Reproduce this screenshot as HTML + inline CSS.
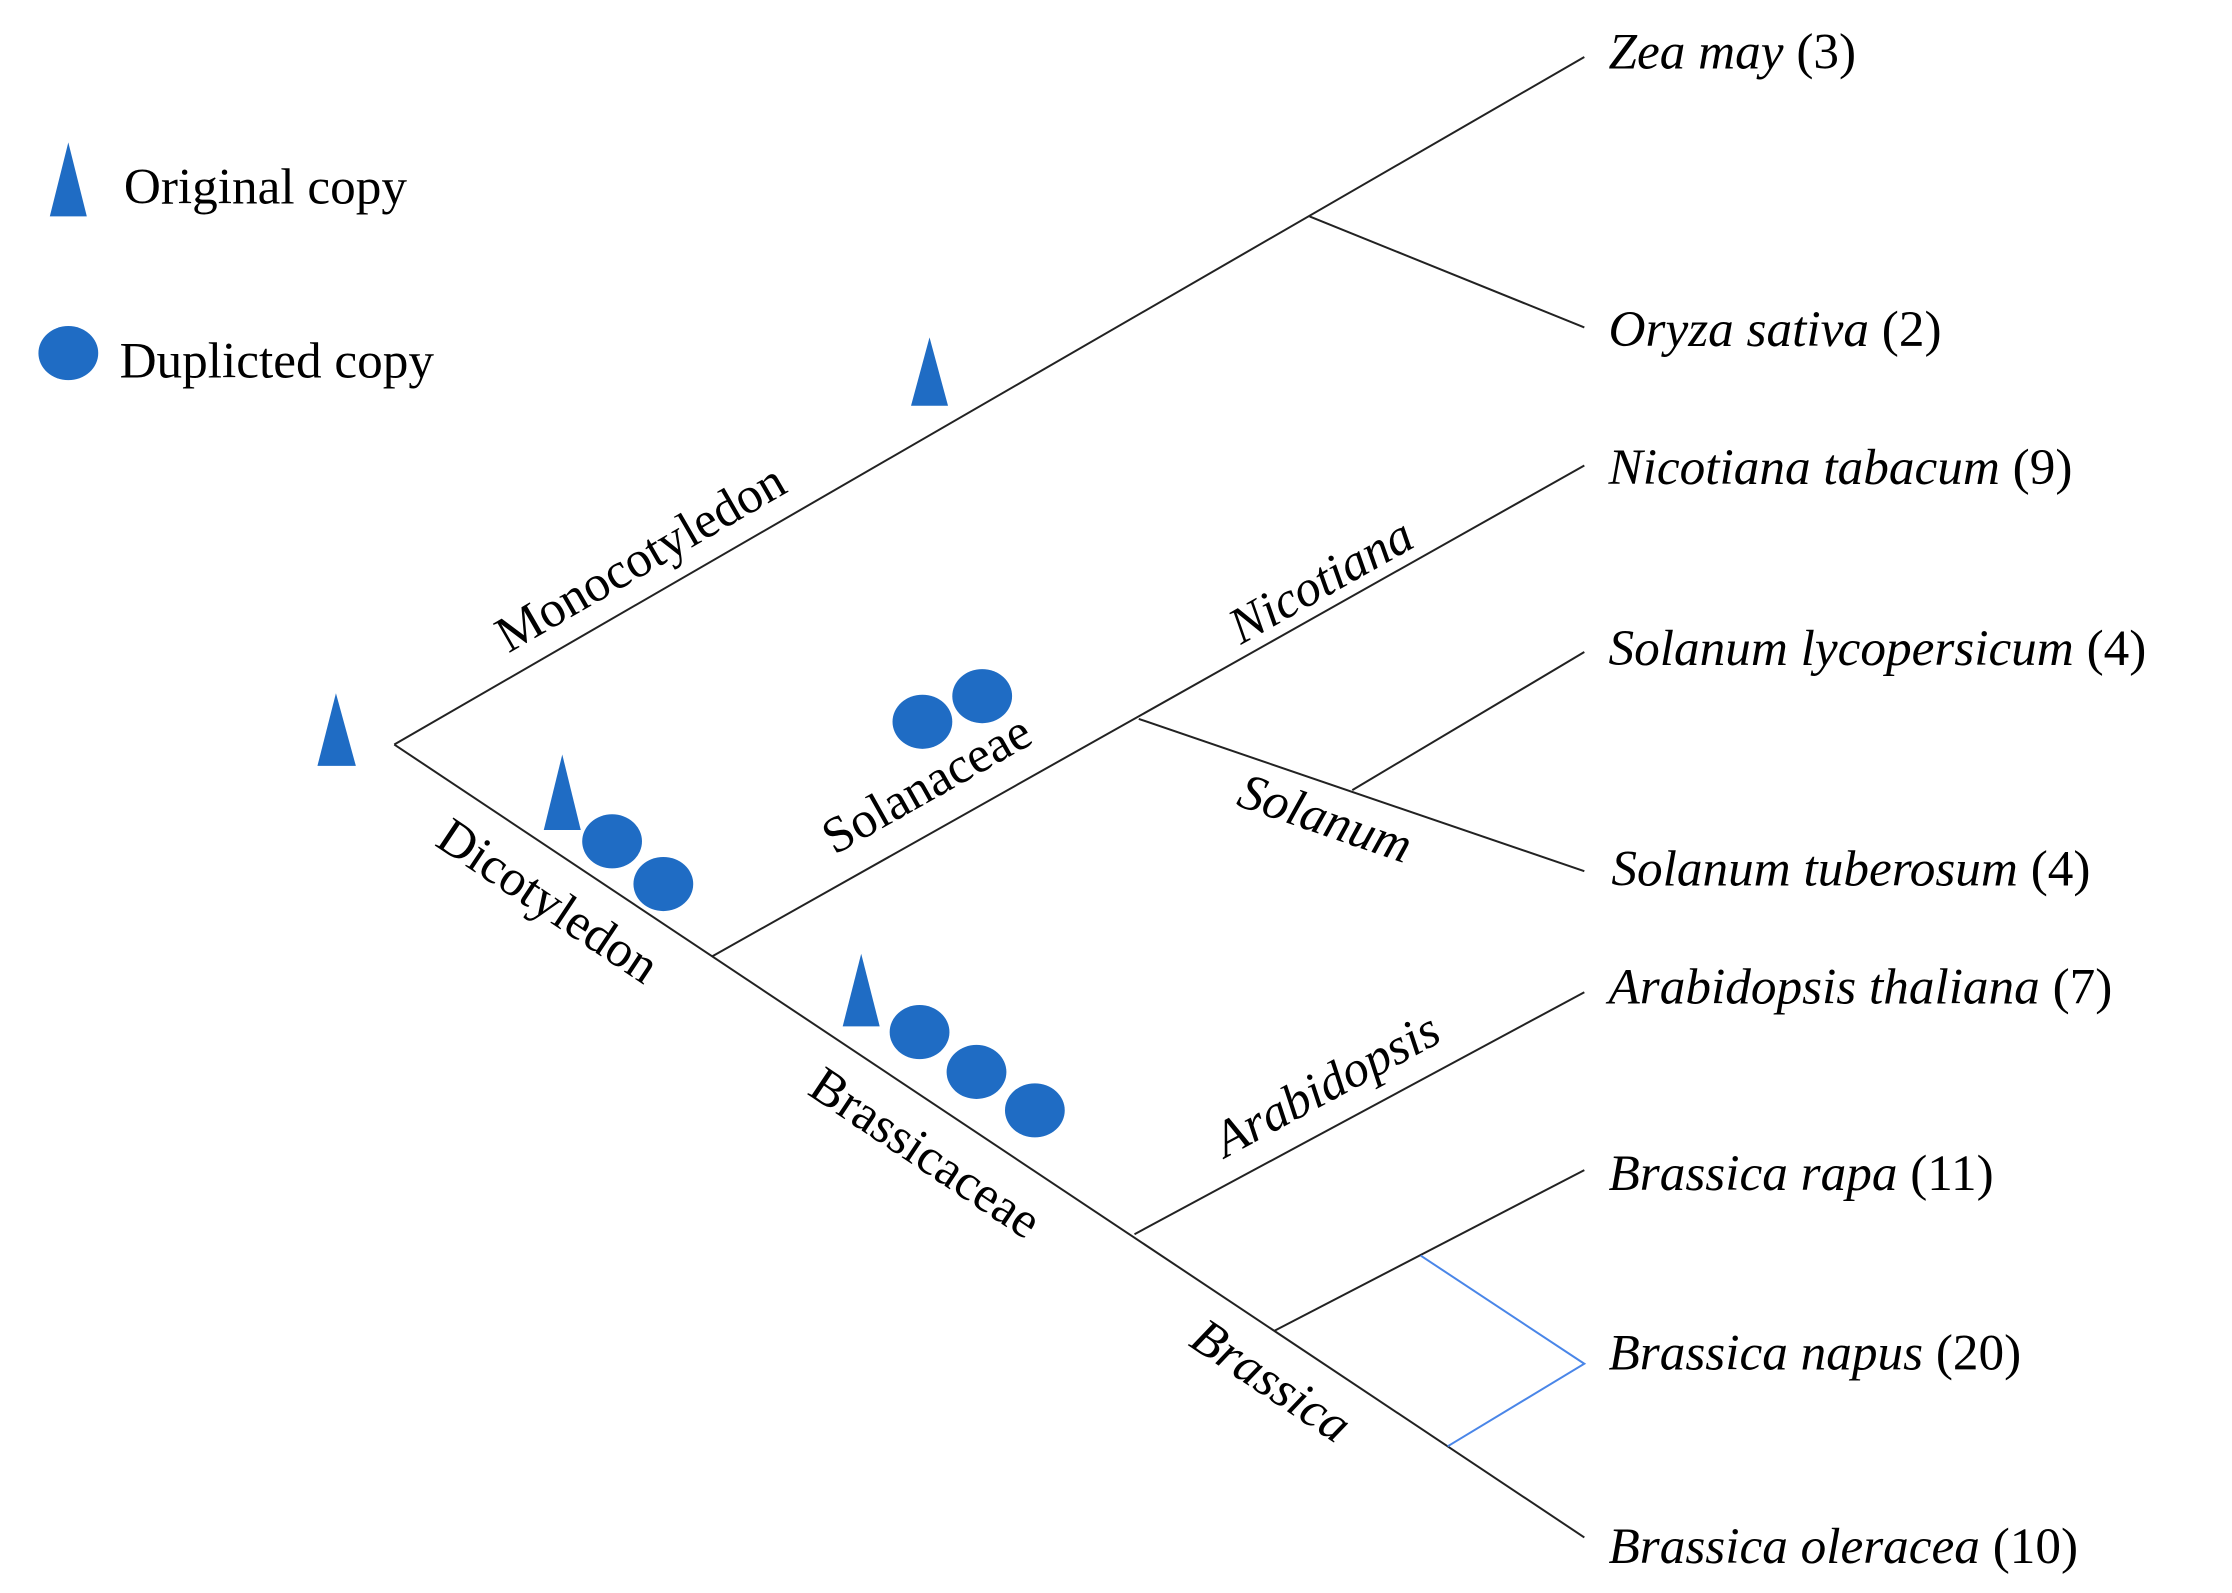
<!DOCTYPE html>
<html><head><meta charset="utf-8"><style>html,body{margin:0;padding:0;background:#fff}svg{display:block}</style></head>
<body>
<svg xmlns="http://www.w3.org/2000/svg" width="2232" height="1593" viewBox="0 0 1568 1119" font-family="'Liberation Serif', serif" font-size="36">
<g stroke="#222" stroke-width="1.4" fill="none">
<line x1="277" y1="523" x2="1113" y2="40"/>
<line x1="920" y1="152" x2="1113" y2="230"/>
<line x1="277" y1="523" x2="1113" y2="1080"/>
<line x1="500" y1="672" x2="1113" y2="327"/>
<line x1="800" y1="505" x2="1113" y2="612"/>
<line x1="950" y1="555" x2="1113" y2="458"/>
<line x1="797" y1="867" x2="1113" y2="697"/>
<line x1="895" y1="935" x2="1113" y2="822"/>
</g>
<polyline points="998,882 1113,958 1017,1016" stroke="#4a86e8" stroke-width="1.4" fill="none"/>
<g fill="#1f6cc4">
<polygon points="48,100 35,152 61,152"/>
<ellipse cx="48" cy="248" rx="21" ry="19"/>
<polygon points="236,487 223,538 250,538"/>
<polygon points="653,237 640,285 666,285"/>
<polygon points="395,530 382,583 408,583"/>
<ellipse cx="430" cy="591" rx="21" ry="19"/>
<ellipse cx="466" cy="621" rx="21" ry="19"/>
<ellipse cx="648" cy="507" rx="21" ry="19"/>
<ellipse cx="690" cy="489" rx="21" ry="19"/>
<polygon points="605,670 592,721 618,721"/>
<ellipse cx="646" cy="725" rx="21" ry="19"/>
<ellipse cx="686" cy="753" rx="21" ry="19"/>
<ellipse cx="727" cy="780" rx="21" ry="19"/>
</g>
<g fill="#000">
<text x="87" y="143">Original  copy</text>
<text x="84" y="265">Duplicted copy</text>
<text x="1130" y="48"><tspan font-style="italic">Zea may</tspan> (3)</text>
<text x="1130" y="243"><tspan font-style="italic">Oryza sativa</tspan> (2)</text>
<text x="1130" y="340"><tspan font-style="italic">Nicotiana tabacum</tspan> (9)</text>
<text x="1130" y="467"><tspan font-style="italic">Solanum lycopersicum</tspan> (4)</text>
<text x="1132" y="622"><tspan font-style="italic">Solanum tuberosum</tspan> (4)</text>
<text x="1130" y="705"><tspan font-style="italic">Arabidopsis thaliana</tspan> (7)</text>
<text x="1130" y="836"><tspan font-style="italic">Brassica rapa</tspan> (11)</text>
<text x="1130" y="962"><tspan font-style="italic">Brassica napus</tspan> (20)</text>
<text x="1130" y="1098"><tspan font-style="italic">Brassica oleracea</tspan> (10)</text>
<g text-anchor="middle" dominant-baseline="central">
<text transform="translate(450,392) rotate(-30)">Monocotyledon</text>
<text transform="translate(928,408) rotate(-29.4)" font-style="italic">Nicotiana</text>
<text transform="translate(651,551) rotate(-29.4)">Solanaceae</text>
<text transform="translate(385,633) rotate(33.7)">Dicotyledon</text>
<text transform="translate(650,810) rotate(33.7)">Brassicaceae</text>
<text transform="translate(931,575) rotate(19)" font-style="italic">Solanum</text>
<text transform="translate(932,762) rotate(-28.3)" font-style="italic">Arabidopsis</text>
<text transform="translate(893,970) rotate(33.7)" font-style="italic">Brassica</text>
</g>
</g>
</svg>
</body></html>
